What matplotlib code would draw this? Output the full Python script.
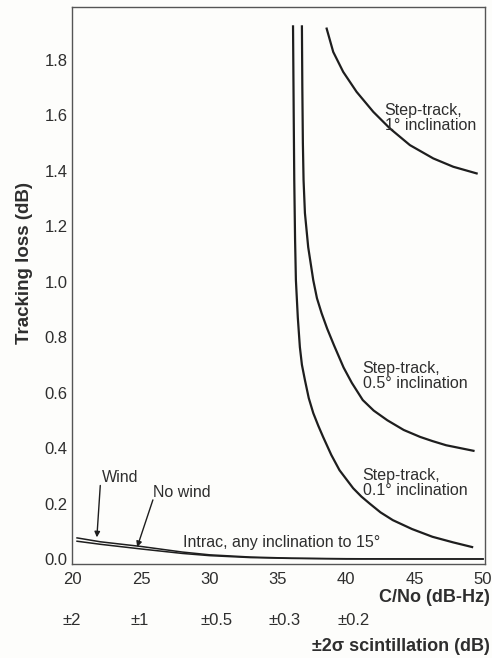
import numpy as np
import matplotlib.pyplot as plt

plt.rcParams['font.family'] = ['Liberation Sans', 'DejaVu Sans']

# Curvas de pérdida de seguimiento vs C/No
x_step01 = [36.1, 36.15, 36.19, 36.25, 36.31, 36.45, 36.6, 36.75, 36.97, 37.25, 37.58,
            37.95, 38.3, 38.9, 39.5, 40.5, 41.1, 41.7, 42.5, 43.4, 44.8, 46.3, 47.8, 49.2]
y_step01 = [1.92, 1.60, 1.366, 1.15, 1.005, 0.87, 0.764, 0.70, 0.645, 0.58, 0.526,
            0.48, 0.44, 0.375, 0.32, 0.255, 0.225, 0.20, 0.168, 0.14, 0.108, 0.08, 0.06, 0.043]

x_step05 = [36.75, 36.78, 36.82, 36.87, 36.97, 37.21, 37.58, 37.85, 38.19, 38.6, 39.1,
            39.8, 40.4, 41.2, 42.0, 43.0, 44.2, 45.4, 46.3, 47.3, 48.3, 49.3]
y_step05 = [1.92, 1.70, 1.50, 1.366, 1.247, 1.124, 1.005, 0.94, 0.886, 0.83, 0.77,
            0.69, 0.635, 0.573, 0.535, 0.50, 0.465, 0.44, 0.425, 0.41, 0.40, 0.39]

x_step1 = [38.56, 39.04, 39.77, 40.75, 41.97, 43.19, 44.65, 46.36, 47.82, 49.53]
y_step1 = [1.912, 1.828, 1.756, 1.684, 1.612, 1.552, 1.492, 1.444, 1.414, 1.39]

x_intrac = [20.3, 22, 25, 28, 30, 33, 36, 40, 45, 50]
y_wind = [0.076, 0.062, 0.045, 0.025, 0.015, 0.007, 0.003, 0.001, 0.0, 0.0]
y_nowind = [0.064, 0.053, 0.036, 0.020, 0.012, 0.005, 0.002, 0.0, 0.0, 0.0]

xticks = [20, 25, 30, 35, 40, 45, 50]
yticks = [0.0, 0.2, 0.4, 0.6, 0.8, 1.0, 1.2, 1.4, 1.6, 1.8]
scint_pos = [19.9, 24.85, 30.5, 35.5, 40.5]
scint_lab = ['±2', '±1', '±0.5', '±0.3', '±0.2']

ink = '#1e1e1e'
txt = '#2e2e2e'

fig = plt.figure(figsize=(4.92, 6.58), dpi=100)
fig.patch.set_facecolor('#fdfdfb')
ax = fig.add_axes([0.1463, 0.1429, 0.8394, 0.8465])
ax.set_facecolor('#fdfdfb')

ax.plot(x_step01, y_step01, color=ink, lw=1.6, solid_joinstyle='round')
ax.plot(x_step05, y_step05, color=ink, lw=1.6, solid_joinstyle='round')
ax.plot(x_step1, y_step1, color=ink, lw=1.6, solid_joinstyle='round')
ax.plot(x_intrac, y_wind, color=ink, lw=1.1)
ax.plot(x_intrac, y_nowind, color=ink, lw=1.1)

ax.set_xlim(19.93, 50.14)
ax.set_ylim(-0.018, 1.99)
ax.set_xticks(xticks)
ax.set_yticks(yticks)
ax.set_yticklabels([f'{v:.1f}' for v in yticks])
ax.tick_params(axis='both', length=0, labelsize=12, colors=txt)
ax.tick_params(axis='x', pad=6)
ax.tick_params(axis='y', pad=3)
for s in ax.spines.values():
    s.set_color('#555555')
    s.set_linewidth(1.0)

# Etiquetas de las curvas
fs = 11.5
ax.text(42.8, 1.59, 'Step-track,\n1° inclination', fontsize=fs, color=txt,
        ha='left', va='center', linespacing=1.05)
ax.text(41.2, 0.66, 'Step-track,\n0.5° inclination', fontsize=fs, color=txt,
        ha='left', va='center', linespacing=1.05)
ax.text(41.2, 0.274, 'Step-track,\n0.1° inclination', fontsize=fs, color=txt,
        ha='left', va='center', linespacing=1.05)
ax.text(28.05, 0.061, 'Intrac, any inclination to 15°', fontsize=fs, color=txt,
        ha='left', va='center')

ax.text(22.1, 0.295, 'Wind', fontsize=fs, color=txt, ha='left', va='center')
ax.annotate('', xy=(21.75, 0.078), xytext=(22.0, 0.265),
            arrowprops=dict(arrowstyle='-|>', color=ink, lw=1.0, mutation_scale=8,
                            shrinkA=0, shrinkB=0))
ax.text(25.85, 0.24, 'No wind', fontsize=fs, color=txt, ha='left', va='center')
ax.annotate('', xy=(24.7, 0.043), xytext=(25.85, 0.213),
            arrowprops=dict(arrowstyle='-|>', color=ink, lw=1.0, mutation_scale=8,
                            shrinkA=0, shrinkB=0))

# Ejes y segunda escala (centelleo)
ax.set_ylabel('Tracking loss (dB)', fontsize=13.5, fontweight='bold', color=txt)
ax.yaxis.set_label_coords(-0.095, 0.54)
trans = ax.get_xaxis_transform()
for p, l in zip(scint_pos, scint_lab):
    ax.text(p, -0.102, l, transform=trans, fontsize=12, color=txt,
            ha='center', va='center')
ax.text(1.012, -0.06, 'C/No (dB-Hz)', transform=ax.transAxes, fontsize=13,
        fontweight='bold', color=txt, ha='right', va='center')
ax.text(1.012, -0.149, '±2σ scintillation (dB)', transform=ax.transAxes, fontsize=13,
        fontweight='bold', color=txt, ha='right', va='center')

fig.savefig('out.png', dpi=100, facecolor=fig.get_facecolor())
